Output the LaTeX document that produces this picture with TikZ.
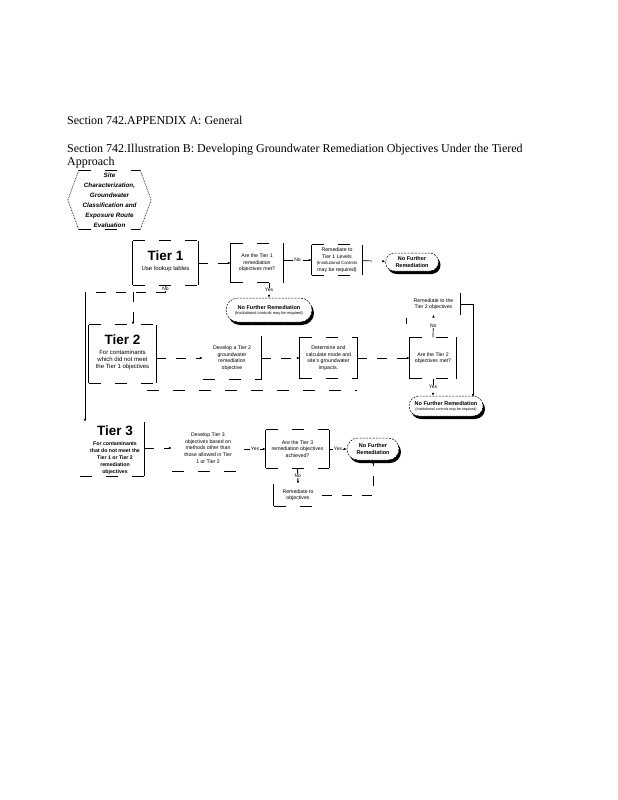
\documentclass[tikz,border=0pt]{standalone}
\usepackage{fontspec}
\setmainfont{Liberation Serif}
\newfontfamily\lsans{Liberation Sans}
\usetikzlibrary{arrows.meta,shapes.misc,shadows}
\newcommand\brokenbox[1]{%
  \draw[side] (#1.north west) -- (#1.south west) (#1.north east) -- (#1.south east);
  \draw[brk] (#1.north west) -- (#1.north east) (#1.south west) -- (#1.south east);}
\begin{document}
\begin{tikzpicture}[x=1pt,y=-1pt,
  hdr/.style={anchor=base west,inner sep=0,font=\fontsize{12}{14}\selectfont},
  bx/.style={draw=none,inner sep=0,rectangle},
  txt/.style={align=center,font=\lsans\fontsize{5.2}{6.6}\selectfont},
  hex/.style={align=center,inner sep=0,font=\lsans\bfseries\itshape\fontsize{6.3}{10}\selectfont},
  tiert/.style={inner sep=0,font=\lsans\bfseries\fontsize{13.5}{14}\selectfont},
  sub/.style={align=center,inner sep=0,font=\lsans\fontsize{6}{7}\selectfont},
  term/.style={rounded rectangle,draw,dash pattern=on 2pt off 1.2pt,fill=white,line width=0.5pt,align=center,inner sep=1pt,
    font=\lsans\bfseries\fontsize{5.5}{6.6}\selectfont,
    drop shadow={shadow xshift=2pt,shadow yshift=-3pt,fill=black,opacity=1}},
  side/.style={line width=0.8pt},
  brk/.style={line width=0.8pt,dash pattern=on 12pt off 14pt},
  con/.style={line width=0.7pt,dash pattern=on 10pt off 10pt},
  tip/.style={-{Latex[length=3pt,width=2.6pt]}},
  lab/.style={inner sep=0.6pt,fill=white,font=\lsans\fontsize{5}{6}\selectfont}
]
\fill[white] (0,0) rectangle (618,800);
\useasboundingbox (0,0) rectangle (618,800);

% header
\node[hdr] (h1) at (67,124) {Section 742.APPENDIX A: General};
\node[hdr] (h2) at (67,152) {Section 742.Illustration B: Developing Groundwater Remediation Objectives Under the Tiered};
\node[hdr] (h3) at (67,165) {Approach};

% site hexagon
\node[hex,minimum width=83pt,minimum height=59pt] (site) at (109.5,200)
  {Site\\Characterization,\\Groundwater\\Classification and\\Exposure Route\\Evaluation};
\draw[brk] ([xshift=11pt]site.north west) -- ([xshift=-11pt]site.north east);
\draw[brk] ([xshift=11pt]site.south west) -- ([xshift=-11pt]site.south east);
\draw[densely dotted,line width=0.7pt] ([xshift=-11pt]site.north east) -- (site.east) -- ([xshift=-11pt]site.south east);
\draw[densely dotted,line width=0.7pt] ([xshift=11pt]site.north west) -- (site.west) -- ([xshift=11pt]site.south west);

% Tier 1 row
\node[bx,minimum width=65pt,minimum height=44pt] (b1) at (165.5,263) {};
\node[tiert] (t1) at (165.5,256) {Tier 1};
\node[sub] (t1s) at (165.5,269) {Use lookup tables};
\brokenbox{b1}

\node[bx,txt,minimum width=52pt,minimum height=39pt] (q1) at (257,263) {Are the Tier 1\\remediation\\objectives met?};
\brokenbox{q1}

\node[bx,txt,minimum width=50pt,minimum height=30pt] (r1) at (337,260)
  {Remediate to\\Tier 1 Levels\\{\fontsize{4.3}{6.6}\selectfont(Institutional Controls}\\may be required)};
\brokenbox{r1}

\node[term,minimum width=55pt,minimum height=18pt] (n1) at (412,262) {No Further\\Remediation};

\draw[con,tip] (b1) -- (q1);
\draw[con,tip] (q1.east |- r1.west) -- (r1.west) node[lab,midway]{No};
\draw[con,tip] (r1) -- (n1);

\node[term,minimum width=88pt,minimum height=24pt] (n2) at (269,310)
  {No Further Remediation\\[-1.5pt]{\fontsize{4}{5}\selectfont\mdseries (Institutional controls may be required)}};
\draw[con,tip] (n2.north |- q1.south) -- (n2.north) node[lab,midway]{Yes};

% Tier 1 "No" branch
\coordinate (j1) at (165.5,292);
\coordinate (j2) at (85,292);
\coordinate (j3) at (133,292);
\draw[side] (b1.south) -- (j1);
\node[lab] (l1) at (165.5,289) {No};
\draw[con] (j1) -- (j2);

% Tier 2 row
\node[bx,minimum width=67pt,minimum height=58pt] (b2) at (122.5,354) {};
\node[tiert] (t2) at (122.5,340) {Tier 2};
\node[sub] (t2s) at (122.5,360) {For contaminants\\which did not meet\\the Tier 1 objectives};
\brokenbox{b2}
\draw[con,tip] (j3) -- (b2.north -| j3);

\node[bx,txt,minimum width=58pt,minimum height=43pt] (d2) at (232,358) {Develop a Tier 2\\groundwater\\remediation\\objective};
\draw[side] (d2.north east) -- (d2.south east);
\draw[brk] (d2.south west) -- (d2.south east);

\node[bx,txt,minimum width=57pt,minimum height=41pt] (c2) at (328.5,358) {Determine and\\calculate mode and\\site's groundwater\\impacts.};
\brokenbox{c2}

\node[bx,txt,minimum width=46pt,minimum height=41pt] (q2) at (433,358) {Are the Tier 2\\objectives met?};
\brokenbox{q2}

\draw[con,tip] (b2.east |- d2.west) -- (d2.west);
\draw[con,tip] (d2) -- (c2);
\draw[con,tip] (c2) -- (q2);

\node[bx,txt,minimum width=53pt,minimum height=21pt] (r2) at (433.5,304) {Remediate to the\\Tier 2 objectives};
\draw[side] (r2.north east) -- (r2.south east);
\draw[side] ([yshift=-3pt]r2.south west) -- ([yshift=-9pt]r2.south west);
\draw[con,tip] (q2.north) -- (r2.south) node[lab,midway]{No};

\node[term,minimum width=76pt,minimum height=20pt] (n3) at (446,406)
  {No Further Remediation\\[-1.5pt]{\fontsize{3.6}{4.5}\selectfont\mdseries (Institutional controls may be required)}};
\draw[con,tip] (q2.south) -- (q2.south |- n3.north) node[lab,midway]{Yes};
\coordinate (k3) at (473,397);
\draw[side,tip] (r2.east) -| (k3);

\coordinate (m1) at (147,390);
\coordinate (m2) at (357,390);
\draw[brk] (m1) -- (m2);

% Tier 3 row
\node[bx,minimum width=64pt,minimum height=54pt] (b3) at (112,449) {};
\node[tiert] (t3) at (115,431) {Tier 3};
\node[sub,font=\lsans\bfseries\fontsize{5.2}{7}\selectfont] (t3s) at (115,458)
  {For contaminants\\that do not meet the\\Tier 1 or Tier 2\\remediation\\objectives};
\draw[side] (b3.north east) -- (b3.south east);
\draw[brk] (b3.south west) -- (b3.south east);
\draw[side,tip] (j2) -- (b3.north -| j2);

\node[bx,txt,minimum width=72pt,minimum height=46pt] (d3) at (208,448)
  {Develop Tier 3\\objectives based on\\methods other than\\those allowed in Tier\\1 or Tier 2};
\draw[brk] (d3.south west) -- (d3.south east);
\draw[con,tip] (b3.east |- d3.west) -- (d3.west);

\node[bx,txt,minimum width=63pt,minimum height=38pt] (q3) at (297.5,449)
  {Are the Tier 3\\remediation objectives\\achieved?};
\brokenbox{q3}
\draw[side,tip] (d3.east |- q3.west) -- (q3.west) node[lab,midway]{Yes};

\node[term,minimum width=54pt,minimum height=22pt] (n4) at (373,449) {No Further\\Remediation};
\draw[side,tip] (q3.east |- n4.west) -- (n4.west) node[lab,midway]{Yes};

\node[bx,txt,minimum width=48pt,minimum height=22pt] (r3) at (298,495) {Remediate to\\objectives};
\draw[side] (r3.north west) -- (r3.south west);
\draw[brk] (r3.south west) -- (r3.south east);
\draw[side,tip] (q3.south) -- (r3.north) node[lab,midway]{No};
\draw[con,tip] (r3.east) -| (n4.south);
\end{tikzpicture}
\end{document}
